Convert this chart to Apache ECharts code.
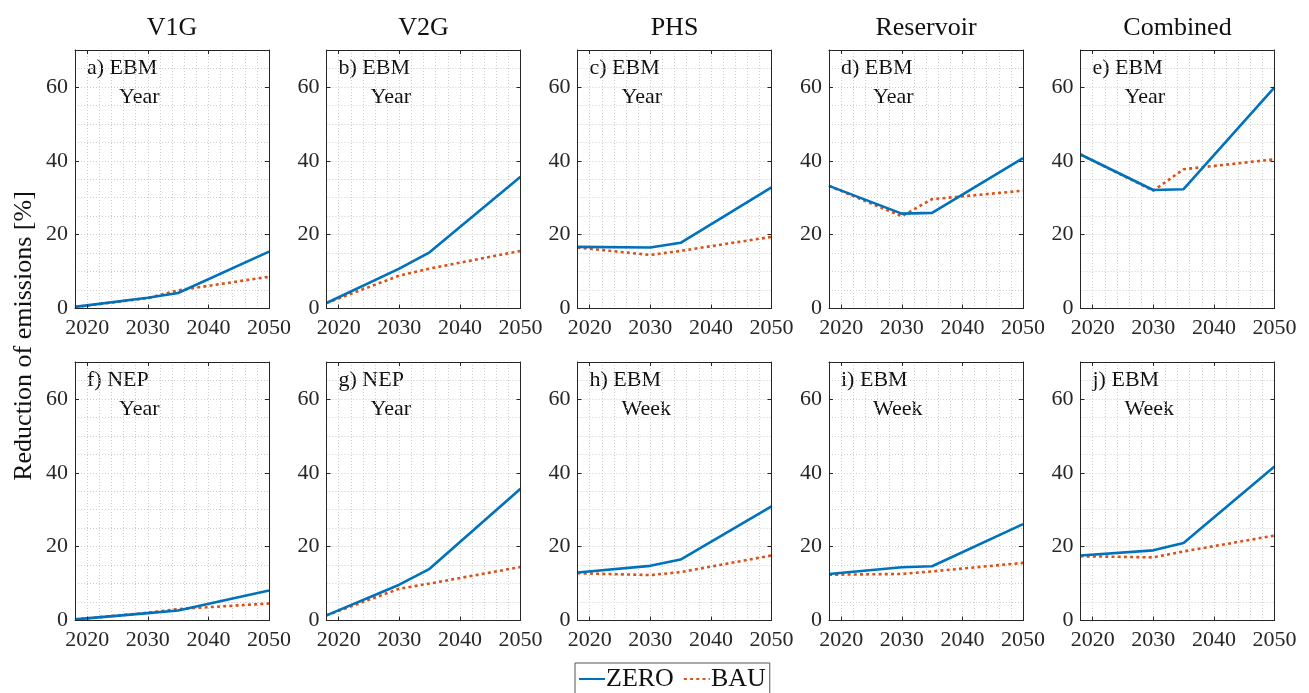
<!DOCTYPE html>
<html>
<head>
<meta charset="utf-8">
<script src="https://cdn.jsdelivr.net/npm/echarts@6/dist/echarts.min.js"></script>
<style>html,body{margin:0;padding:0;background:#fff;}#c{width:1309px;height:693px;}</style>
</head>
<body>
<div id="c"></div>
<script>
// ---- data ----
const years = [2018, 2030, 2035, 2050];
const xTicks = [2020, 2030, 2040, 2050];
const yTicks = [0, 20, 40, 60];
const columnTitles = ['V1G', 'V2G', 'PHS', 'Reservoir', 'Combined'];
const panelLabels = ['a) EBM', 'b) EBM', 'c) EBM', 'd) EBM', 'e) EBM', 'f) NEP', 'g) NEP', 'h) EBM', 'i) EBM', 'j) EBM'];
const panelModes = ['Year', 'Year', 'Year', 'Year', 'Year', 'Year', 'Year', 'Week', 'Week', 'Week'];
const seriesNames = ['ZERO', 'BAU'];

const zero_a = [0.45, 2.9, 4.2, 15.4];
const bau_a  = [0.4, 2.8, 4.9, 8.6];
const zero_b = [1.5, 10.8, 15.2, 35.7];
const bau_b  = [1.5, 8.9, 10.8, 15.6];
const zero_c = [16.7, 16.5, 17.8, 32.8];
const bau_c  = [16.5, 14.5, 15.6, 19.4];
const zero_d = [33.2, 25.7, 25.9, 40.7];
const bau_d  = [33.2, 25.0, 29.6, 31.9];
const zero_e = [41.7, 32.1, 32.3, 59.9];
const bau_e  = [41.7, 31.9, 37.7, 40.4];
const zero_f = [0.3, 2.0, 2.7, 8.1];
const bau_f  = [0.3, 2.1, 3.1, 4.6];
const zero_g = [1.4, 9.7, 14.0, 35.7];
const bau_g  = [1.4, 8.6, 10.0, 14.5];
const zero_h = [13.0, 14.8, 16.5, 30.9];
const bau_h  = [12.8, 12.3, 13.1, 17.6];
const zero_i = [12.6, 14.4, 14.7, 26.1];
const bau_i  = [12.4, 12.6, 13.3, 15.6];
const zero_j = [17.6, 19.0, 21.0, 41.7];
const bau_j  = [17.4, 17.1, 18.7, 23.0];

const zeroData = [zero_a, zero_b, zero_c, zero_d, zero_e, zero_f, zero_g, zero_h, zero_i, zero_j];
const bauData  = [bau_a, bau_b, bau_c, bau_d, bau_e, bau_f, bau_g, bau_h, bau_i, bau_j];

// ---- layout / style ----
const FONT = '"Liberation Serif", "DejaVu Serif", serif';
const AX = '#262626';
const GRIDC = '#cfcfcf';
const colLeft = [75, 326.5, 577.5, 829, 1080.5];
const gridW = 194;
const rowTop = [50, 362];
const gridH = 258.5;
const colors = ['#0072BD', '#D95319'];

const grids = [], xAxes = [], yAxes = [], series = [], graphics = [];
for (let p = 0; p < 10; p++) {
  const r = Math.floor(p / 5), c = p % 5;
  grids.push({left: colLeft[c], top: rowTop[r], width: gridW, height: gridH, containLabel: false});
  const tickStyle = {show: true, inside: true, length: 4, lineStyle: {color: AX, width: 1}};
  const lineAx = {show: true, onZero: false, lineStyle: {color: AX, width: 1}};
  // x: bottom (labels + ticks), top (ticks), grid-only
  xAxes.push({
    type: 'value', gridIndex: p, min: 2018, max: 2050, position: 'bottom', z: 5,
    axisLine: lineAx,
    axisTick: Object.assign({customValues: xTicks}, tickStyle),
    axisLabel: {show: true, customValues: xTicks, formatter: v => String(v), color: AX, fontFamily: FONT, fontSize: 22, margin: 9},
    splitLine: {show: false}
  });
  xAxes.push({
    type: 'value', gridIndex: p, min: 2018, max: 2050, position: 'top', z: 5,
    axisLine: lineAx,
    axisTick: Object.assign({customValues: xTicks}, tickStyle),
    axisLabel: {show: false}, splitLine: {show: false}
  });
  xAxes.push({
    type: 'value', gridIndex: p, min: 2018, max: 2050, interval: 2, position: 'top', z: 0,
    axisLine: {show: false}, axisTick: {show: false}, axisLabel: {show: false},
    splitLine: {show: true, lineStyle: {color: GRIDC, type: [1, 2], width: 1}}
  });
  // y: left (labels + ticks), right (ticks), grid-only
  yAxes.push({
    type: 'value', gridIndex: p, min: 0, max: 70, position: 'left', z: 5,
    axisLine: lineAx,
    axisTick: Object.assign({customValues: yTicks}, tickStyle),
    axisLabel: {show: true, customValues: yTicks, color: AX, fontFamily: FONT, fontSize: 22, margin: 7},
    splitLine: {show: false}
  });
  yAxes.push({
    type: 'value', gridIndex: p, min: 0, max: 70, position: 'right', z: 5,
    axisLine: lineAx,
    axisTick: Object.assign({customValues: yTicks}, tickStyle),
    axisLabel: {show: false}, splitLine: {show: false}
  });
  yAxes.push({
    type: 'value', gridIndex: p, min: 0, max: 70, interval: 5, position: 'right', z: 0,
    axisLine: {show: false}, axisTick: {show: false}, axisLabel: {show: false},
    splitLine: {show: true, lineStyle: {color: GRIDC, type: [1, 2], width: 1}}
  });
  [zeroData[p], bauData[p]].forEach((vals, k) => {
    series.push({
      type: 'line', name: seriesNames[k], xAxisIndex: 3 * p, yAxisIndex: 3 * p,
      data: years.map((y, i) => [y, vals[i]]),
      symbol: 'none', showSymbol: false, silent: true, z: 3 - k,
      lineStyle: {color: colors[k], width: 2.6, type: k === 0 ? 'solid' : [3, 3.2], cap: 'butt'},
      itemStyle: {color: colors[k]}
    });
  });
  graphics.push({type: 'text', x: colLeft[c] + 12, y: rowTop[r] + 18,
    style: {text: panelLabels[p], font: '22px ' + FONT, fill: '#111', align: 'left', verticalAlign: 'middle'}});
  graphics.push({type: 'text', x: colLeft[c] + 44, y: rowTop[r] + 47,
    style: {text: panelModes[p], font: '22px ' + FONT, fill: '#111', align: 'left', verticalAlign: 'middle'}});
}
for (let c = 0; c < 5; c++) {
  graphics.push({type: 'text', x: colLeft[c] + gridW / 2, y: 28,
    style: {text: columnTitles[c], font: '26px ' + FONT, fill: '#111', align: 'center', verticalAlign: 'middle'}});
}
graphics.push({type: 'text', x: 24, y: 336, rotation: Math.PI / 2,
  style: {text: 'Reduction of emissions [%]', font: '26px ' + FONT, fill: '#111', align: 'center', verticalAlign: 'middle'}});

const chart = echarts.init(document.getElementById('c'));
chart.setOption({
  animation: false,
  backgroundColor: '#fff',
  grid: grids, xAxis: xAxes, yAxis: yAxes, series: series, graphic: graphics,
  legend: {
    data: seriesNames, left: 575, top: 663,
    orient: 'horizontal', itemWidth: 26, itemHeight: 12, itemGap: 9,
    padding: [3, 4, 8, 3], borderColor: '#555', borderWidth: 1, backgroundColor: '#fff',
    itemStyle: {opacity: 0},
    textStyle: {fontFamily: FONT, fontSize: 26, color: '#111', padding: [0, 0, 0, -4]},
    selectedMode: false
  }
});
</script>
</body>
</html>
